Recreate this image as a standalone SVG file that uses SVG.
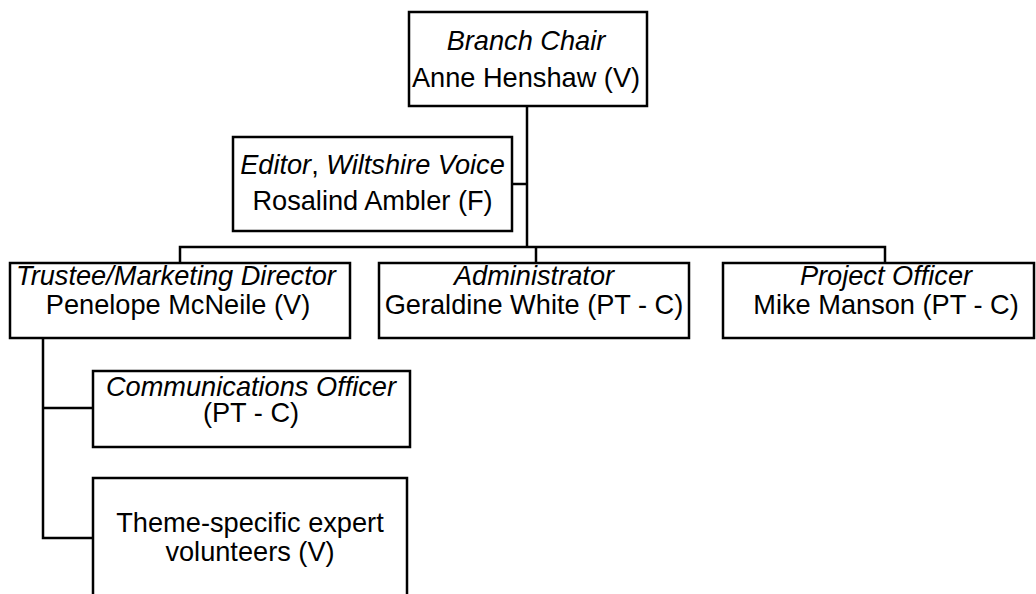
<svg xmlns="http://www.w3.org/2000/svg" width="1036" height="594" viewBox="0 0 1036 594">
<style>
.box{fill:#fff;stroke:#000;stroke-width:2.5}
.ln{fill:none;stroke:#000;stroke-width:2.5}
text{font-family:"Liberation Sans",Arial,sans-serif;font-size:27.2px;text-anchor:middle;fill:#000}
.i{font-style:italic}
</style>
<rect width="1036" height="594" fill="#fff"/>
<g id="connectors">
<path class="ln" d="M527,106 V247"/>
<path class="ln" d="M512,184 H527"/>
<path class="ln" d="M180,263 V247 H885 V263"/>
<path class="ln" d="M536,247 V263"/>
<path class="ln" d="M43,338 V538 H93"/>
<path class="ln" d="M43,408 H93"/>
</g>
<g id="chair">
<rect class="box" x="409" y="12" width="238" height="94"/>
<text x="526" y="50" class="i">Branch Chair</text>
<text x="526" y="87">Anne Henshaw (V)</text>
</g>
<g id="editor">
<rect class="box" x="233" y="137" width="279" height="94"/>
<text x="372.5" y="174"><tspan class="i">Editor</tspan>, <tspan class="i">Wiltshire Voice</tspan></text>
<text x="372.5" y="210">Rosalind Ambler (F)</text>
</g>
<g id="trustee">
<rect class="box" x="10" y="263" width="340" height="75"/>
<text x="176" y="285" class="i">Trustee/Marketing Director</text>
<text x="178" y="314">Penelope McNeile (V)</text>
</g>
<g id="admin">
<rect class="box" x="379" y="263" width="310" height="75"/>
<text x="534" y="285" class="i">Administrator</text>
<text x="534" y="314">Geraldine White (PT - C)</text>
</g>
<g id="project">
<rect class="box" x="723" y="263" width="311" height="75"/>
<text x="886" y="285" class="i">Project Officer</text>
<text x="886" y="314">Mike Manson (PT - C)</text>
</g>
<g id="comms">
<rect class="box" x="93" y="371" width="317" height="76"/>
<text x="251" y="396" class="i">Communications  Officer</text>
<text x="251" y="422">(PT - C)</text>
</g>
<g id="theme">
<rect class="box" x="93" y="478" width="314" height="130"/>
<text x="250" y="532">Theme-specific expert</text>
<text x="250" y="561">volunteers (V)</text>
</g>
</svg>
